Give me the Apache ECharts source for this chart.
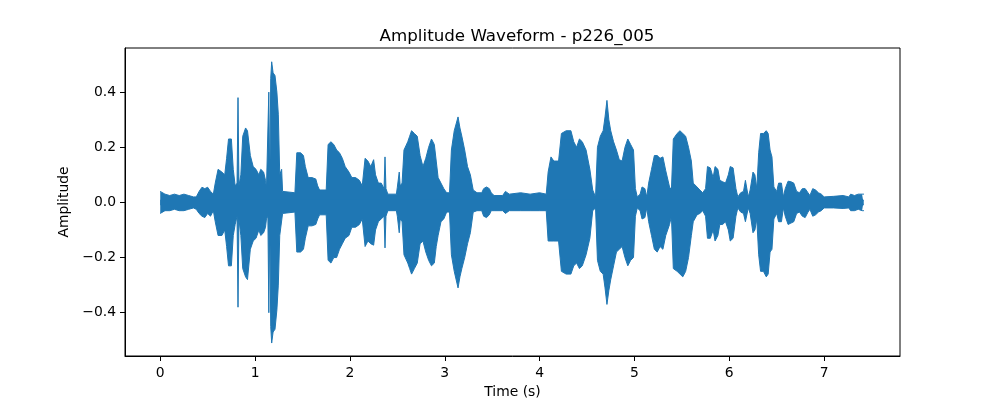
<!DOCTYPE html>
<html>
<head>
<meta charset="utf-8">
<script src="https://cdn.jsdelivr.net/npm/echarts@6/dist/echarts.min.js"></script>
<style>
  html, body { margin: 0; padding: 0; background: #fff; }
  #main { width: 1000px; height: 400px; }
</style>
</head>
<body>
<div id="main"></div>
<script>
// envelope of the waveform: time (s), upper and lower peak
var times = [0.00,0.02,0.05,0.10,0.15,0.20,0.25,0.30,0.35,0.38,0.41,0.44,0.47,0.50,0.53,0.56,0.58,0.61,0.65,0.68,
  0.70,0.72,0.75,0.77,0.79,0.81,0.82,0.83,0.85,0.87,0.90,0.92,0.95,0.98,1.01,1.04,1.06,1.09,1.11,1.12,
  1.135,1.145,1.155,1.165,1.175,1.19,1.21,1.23,1.245,1.26,1.28,1.29,1.31,1.42,1.44,1.48,1.51,1.53,1.56,1.60,
  1.64,1.66,1.68,1.75,1.77,1.80,1.83,1.86,1.89,1.92,1.95,1.99,2.02,2.06,2.10,2.13,2.16,2.19,2.22,2.25,
  2.27,2.30,2.33,2.36,2.37,2.38,2.40,2.49,2.50,2.52,2.53,2.55,2.57,2.61,2.63,2.65,2.68,2.71,2.74,2.77,
  2.80,2.83,2.86,2.89,2.91,2.93,2.96,2.99,3.02,3.05,3.07,3.10,3.14,3.16,3.18,3.21,3.24,3.27,3.30,3.34,
  3.39,3.41,3.44,3.47,3.49,3.52,3.61,3.64,3.66,3.68,3.80,3.90,4.00,4.07,4.09,4.12,4.15,4.20,4.23,4.28,
  4.33,4.36,4.39,4.42,4.45,4.49,4.53,4.56,4.59,4.61,4.64,4.67,4.69,4.71,4.73,4.75,4.78,4.81,4.84,4.87,
  4.90,4.93,4.96,4.99,5.01,5.03,5.06,5.08,5.11,5.13,5.15,5.18,5.21,5.24,5.27,5.30,5.33,5.37,5.39,5.41,
  5.45,5.48,5.51,5.54,5.57,5.60,5.62,5.66,5.69,5.72,5.75,5.77,5.80,5.83,5.85,5.88,5.90,5.93,5.96,5.99,
  6.01,6.04,6.07,6.09,6.12,6.15,6.17,6.20,6.22,6.25,6.27,6.29,6.31,6.33,6.36,6.39,6.41,6.43,6.45,6.47,
  6.50,6.52,6.55,6.57,6.59,6.62,6.65,6.68,6.71,6.74,6.77,6.80,6.83,6.85,6.88,6.91,6.94,6.97,7.00,7.10,
  7.20,7.26,7.28,7.32,7.36,7.40,7.42];

var upper = [0.04,0.035,0.03,0.025,0.03,0.025,0.03,0.025,0.02,0.02,0.04,0.055,0.05,0.055,0.04,0.03,0.07,0.12,0.11,0.10,
  0.16,0.23,0.23,0.12,0.06,0.07,0.38,0.06,0.10,0.24,0.27,0.26,0.17,0.13,0.12,0.10,0.12,0.11,0.08,0.05,
  0.05,0.40,0.05,0.45,0.51,0.47,0.46,0.40,0.32,0.10,0.12,0.04,0.035,0.035,0.18,0.18,0.17,0.13,0.09,0.09,
  0.085,0.06,0.045,0.045,0.21,0.22,0.21,0.19,0.18,0.16,0.13,0.11,0.09,0.09,0.08,0.06,0.16,0.15,0.13,0.155,
  0.10,0.07,0.07,0.05,0.165,0.05,0.03,0.03,0.055,0.11,0.06,0.07,0.19,0.22,0.24,0.26,0.25,0.24,0.17,0.13,
  0.16,0.20,0.23,0.21,0.15,0.09,0.07,0.05,0.035,0.035,0.19,0.26,0.31,0.27,0.24,0.19,0.13,0.10,0.045,0.035,
  0.035,0.05,0.056,0.05,0.035,0.025,0.025,0.04,0.045,0.03,0.035,0.03,0.035,0.03,0.11,0.165,0.15,0.15,0.25,0.26,
  0.26,0.22,0.20,0.23,0.22,0.19,0.12,0.045,0.02,0.20,0.24,0.26,0.31,0.37,0.30,0.26,0.22,0.19,0.155,0.15,
  0.20,0.23,0.21,0.19,0.05,0.02,0.03,0.056,0.05,0.02,0.07,0.12,0.17,0.17,0.16,0.165,0.115,0.056,0.045,0.23,
  0.25,0.26,0.25,0.24,0.20,0.15,0.07,0.056,0.045,0.035,0.05,0.13,0.125,0.09,0.13,0.12,0.08,0.075,0.07,0.10,
  0.13,0.125,0.05,0.02,0.035,0.04,0.08,0.02,0.045,0.11,0.10,0.05,0.18,0.25,0.25,0.26,0.25,0.19,0.165,0.056,
  0.04,0.07,0.07,0.02,0.05,0.077,0.075,0.07,0.04,0.035,0.05,0.05,0.035,0.025,0.05,0.045,0.035,0.03,0.02,0.022,
  0.025,0.02,0.03,0.025,0.03,0.03,0.03];

var lower = [-0.04,-0.035,-0.03,-0.03,-0.025,-0.03,-0.03,-0.025,-0.02,-0.025,-0.04,-0.05,-0.055,-0.04,-0.05,-0.03,-0.07,-0.12,-0.12,-0.10,
  -0.16,-0.23,-0.23,-0.12,-0.08,-0.05,-0.38,-0.06,-0.12,-0.24,-0.27,-0.28,-0.17,-0.14,-0.13,-0.10,-0.12,-0.11,-0.09,-0.06,
  -0.05,-0.40,-0.05,-0.45,-0.51,-0.47,-0.46,-0.39,-0.30,-0.12,-0.12,-0.04,-0.035,-0.035,-0.18,-0.18,-0.17,-0.13,-0.085,-0.085,
  -0.08,-0.06,-0.045,-0.045,-0.21,-0.22,-0.20,-0.20,-0.17,-0.15,-0.13,-0.12,-0.09,-0.09,-0.08,-0.06,-0.16,-0.14,-0.15,-0.155,
  -0.10,-0.07,-0.06,-0.05,-0.165,-0.05,-0.03,-0.03,-0.05,-0.11,-0.06,-0.07,-0.19,-0.22,-0.24,-0.26,-0.24,-0.22,-0.15,-0.14,
  -0.18,-0.21,-0.23,-0.22,-0.16,-0.12,-0.07,-0.06,-0.035,-0.035,-0.19,-0.25,-0.31,-0.27,-0.24,-0.20,-0.15,-0.11,-0.035,-0.03,
  -0.03,-0.05,-0.055,-0.045,-0.03,-0.03,-0.03,-0.04,-0.045,-0.03,-0.03,-0.03,-0.03,-0.03,-0.14,-0.14,-0.14,-0.14,-0.25,-0.26,
  -0.26,-0.23,-0.22,-0.24,-0.23,-0.19,-0.13,-0.03,-0.02,-0.21,-0.25,-0.26,-0.31,-0.37,-0.32,-0.28,-0.23,-0.18,-0.17,-0.16,
  -0.20,-0.23,-0.21,-0.20,-0.05,-0.02,-0.03,-0.06,-0.055,-0.02,-0.07,-0.12,-0.17,-0.18,-0.16,-0.17,-0.12,-0.08,-0.05,-0.24,
  -0.25,-0.26,-0.27,-0.25,-0.20,-0.12,-0.07,-0.045,-0.04,-0.03,-0.05,-0.13,-0.13,-0.10,-0.14,-0.12,-0.08,-0.08,-0.07,-0.10,
  -0.14,-0.13,-0.05,-0.02,-0.035,-0.04,-0.07,-0.02,-0.04,-0.11,-0.10,-0.06,-0.19,-0.25,-0.25,-0.27,-0.26,-0.18,-0.17,-0.06,
  -0.04,-0.07,-0.07,-0.02,-0.05,-0.08,-0.075,-0.07,-0.04,-0.035,-0.05,-0.055,-0.035,-0.025,-0.05,-0.045,-0.035,-0.03,-0.02,-0.02,
  -0.022,-0.02,-0.03,-0.03,-0.025,-0.03,-0.03];

var xTicks = [0, 1, 2, 3, 4, 5, 6, 7];
var yTicks = [-0.4, -0.2, 0.0, 0.2, 0.4];

var blue = '#1f77b4';
var font = 'DejaVu Sans';

function pairs(vals) {
  var out = [];
  for (var i = 0; i < times.length; i++) out.push([times[i], vals[i]]);
  return out;
}

// each half filled past zero a little so the two fills overlap (no seam)
function envSeries(vals, origin) {
  return {
    type: 'line',
    data: pairs(vals),
    symbol: 'none',
    smooth: false,
    lineStyle: { color: blue, width: 1 },
    areaStyle: { color: blue, opacity: 1, origin: origin },
    silent: true
  };
}

var myChart = echarts.init(document.getElementById('main'));

var option = {
  backgroundColor: '#fff',
  animation: false,
  title: {
    text: 'Amplitude Waveform - p226_005',
    left: 512,
    top: 23,
    textAlign: 'center',
    textStyle: { fontFamily: font, fontSize: 16.7, fontWeight: 'normal', color: '#000' }
  },
  grid: {
    left: 125, right: 100, top: 48, bottom: 44,
    outerBoundsMode: 'none',
    show: true, borderColor: '#000', borderWidth: 1, backgroundColor: 'transparent'
  },
  xAxis: {
    type: 'value',
    min: -0.3715,
    max: 7.80,
    name: 'Time (s)',
    nameLocation: 'middle',
    nameGap: 29,
    nameTextStyle: { fontFamily: font, fontSize: 13.9, color: '#000' },
    axisLine: { show: true, onZero: false, lineStyle: { color: '#000', width: 1 } },
    axisTick: { show: true, inside: false, length: 5, customValues: xTicks, lineStyle: { color: '#000' } },
    axisLabel: { margin: 10, customValues: xTicks, fontFamily: font, fontSize: 13.9, color: '#000',
      formatter: function (v) { return String(v); } },
    splitLine: { show: false }
  },
  yAxis: {
    type: 'value',
    min: -0.557,
    max: 0.56,
    name: 'Amplitude',
    nameLocation: 'middle',
    nameGap: 50,
    nameTextStyle: { fontFamily: font, fontSize: 13.9, color: '#000' },
    axisLine: { show: true, onZero: false, lineStyle: { color: '#000', width: 1 } },
    axisTick: { show: true, inside: false, length: 5, customValues: yTicks, lineStyle: { color: '#000' } },
    axisLabel: { margin: 9, customValues: yTicks, fontFamily: font, fontSize: 13.9, color: '#000',
      formatter: function (v) { return v.toFixed(1).replace('-', '\u2212'); } },
    splitLine: { show: false }
  },
  series: [envSeries(upper, -0.01), envSeries(lower, 0.01)]
};

myChart.setOption(option);
</script>
</body>
</html>
